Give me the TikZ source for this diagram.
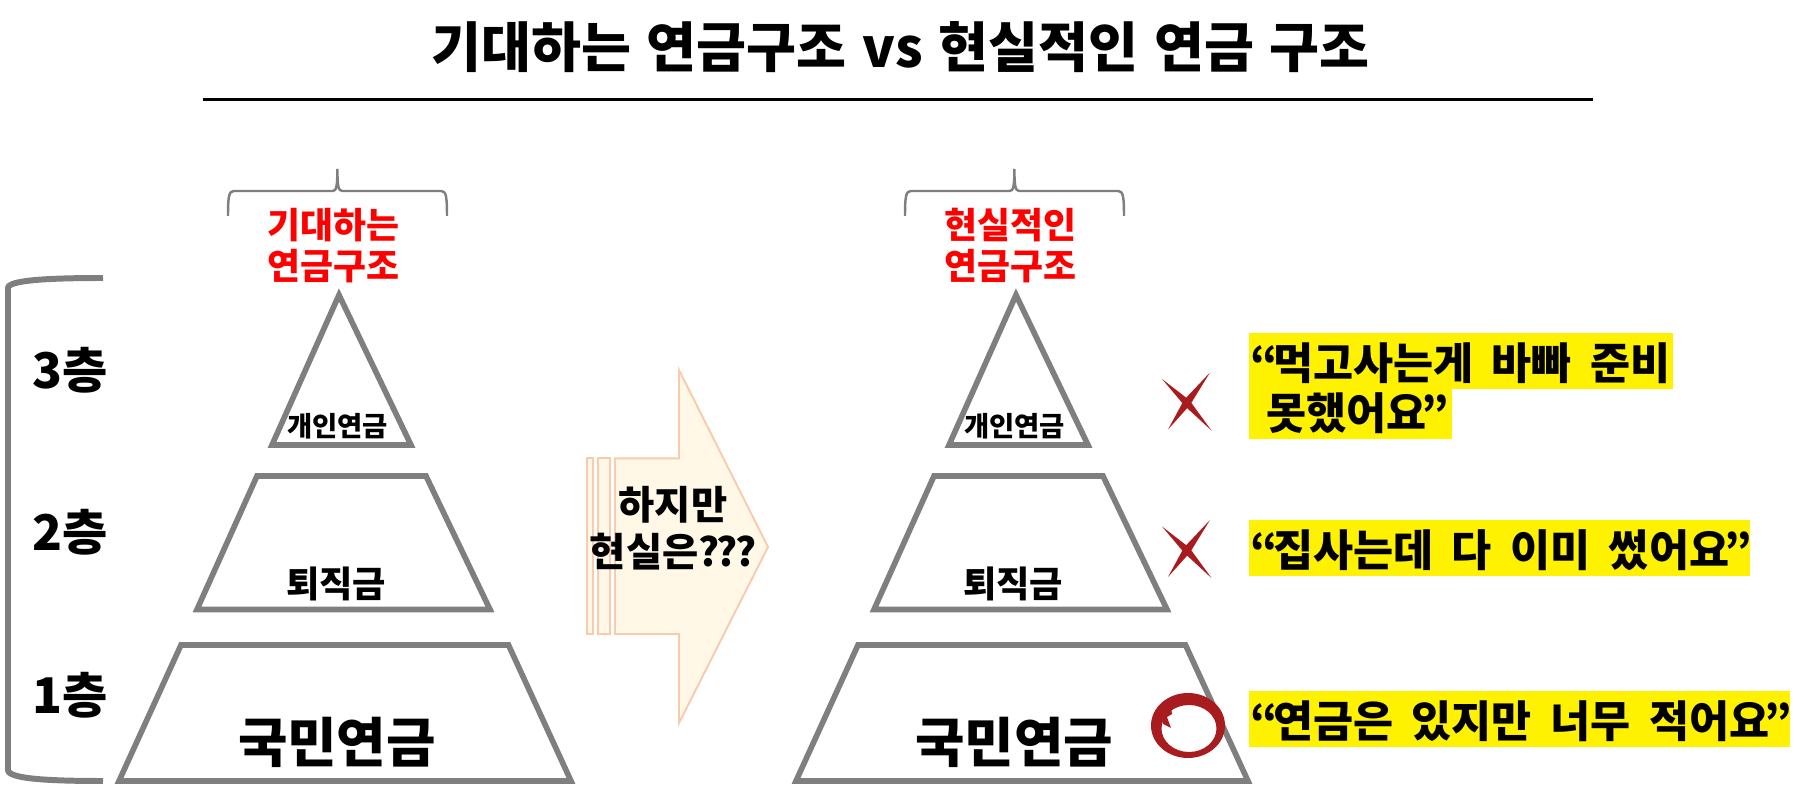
\documentclass[tikz,border=0pt]{standalone}
\usepackage{fontspec}
\setmainfont{Noto Sans CJK KR}
\newfontfamily\quotefont[WordSpace=1.85]{Noto Sans CJK KR}
\usetikzlibrary{calc}
\definecolor{pyrgray}{HTML}{7F7F7F}
\definecolor{arrowfill}{HTML}{FFF8E6}
\definecolor{arrowline}{HTML}{F8CBAD}
\definecolor{markred}{HTML}{A81C20}
\tikzset{
	pyramid/.style={line width=1.6pt, draw=pyrgray, line join=miter},
	brace/.style={line width=0.7pt, draw=pyrgray},
	redlabel/.style={text=red, align=center, font=\fontsize{10.2}{11.6}\selectfont\bfseries},
	floorlabel/.style={font=\fontsize{14}{16}\selectfont\bfseries},
	quote/.style={anchor=west, inner sep=0pt, font=\quotefont\fontsize{12.4}{15}\selectfont\bfseries},
	arrowpart/.style={fill=arrowfill, draw=arrowline, line width=0.55pt}
}
% tapered cross, centre given
\def\crossmark(#1,#2){\fill[markred] (#1-0.25,#2-0.23) -- (#1+0.022,#2-0.02) -- (#1+0.245,#2+0.285) -- (#1-0.022,#2+0.04) -- cycle;
	\fill[markred] (#1+0.23,#2-0.295) -- (#1+0.03,#2+0.03) -- (#1-0.19,#2+0.275) -- (#1-0.03,#2-0.02) -- cycle;}
\def\qk{\kern-0.12em}

\begin{document}
\begin{tikzpicture}[y=-1cm]
	%%%%% START %%%%%
	\useasboundingbox (0, 0) rectangle (18.15, 8.06);
	
	\node[font=\fontsize{15.45}{18}\selectfont\bfseries] (title) at (9.005, 0.47) {\spaceskip=0.29em 기대하는 연금구조 vs 현실적인 연금 구조};
	\draw[line width=1pt] (2.026, 0.995) -- (15.927, 0.995);
	
	% floors, big brace
	\draw[line width=1.7pt, draw=pyrgray] (1.03, 2.78) .. controls (0.5, 2.78) and (0.08, 2.8) .. (0.08, 2.88) -- (0.08, 7.70) .. controls (0.08, 7.79) and (0.5, 7.81) .. (1.03, 7.81);
	\node[floorlabel] (floor3) at (0.705, 3.70) {3층};
	\node[floorlabel] (floor2) at (0.705, 5.32) {2층};
	\node[floorlabel] (floor1) at (0.705, 6.95) {1층};
	
	% left pyramid
	\draw[brace] (2.28, 2.16) .. controls (2.28, 1.96) and (2.29, 1.91) .. (2.34, 1.91) -- (3.33, 1.91) .. controls (3.365, 1.91) and (3.374, 1.85) .. (3.374, 1.69) .. controls (3.374, 1.85) and (3.383, 1.91) .. (3.42, 1.91) -- (4.41, 1.91) .. controls (4.46, 1.91) and (4.47, 1.96) .. (4.47, 2.16);
	\node[redlabel] (wanted) at (3.335, 2.455) {기대하는\\연금구조};
	\draw[pyramid] (3.39, 2.95) -- (4.11, 4.45) -- (2.72, 4.45) -- cycle;
	\node[font=\fontsize{7.8}{9}\selectfont\bfseries] (private) at (3.375, 4.26) {개인연금};
	\draw[pyramid] (2.57, 4.76) -- (4.26, 4.76) -- (4.90, 6.095) -- (1.97, 6.095) -- cycle;
	\node[font=\fontsize{10.3}{12}\selectfont\bfseries] (retire) at (3.36, 5.84) {퇴직금};
	\draw[pyramid] (1.81, 6.45) -- (5.085, 6.45) -- (5.71, 7.81) -- (1.19, 7.81) -- cycle;
	\node[font=\fontsize{15.3}{18}\selectfont\bfseries] (nation) at (3.37, 7.42) {국민연금};
	
	% arrow
	\draw[arrowpart] (5.867, 4.583) rectangle (5.933, 6.34);
	\draw[arrowpart] (5.98, 4.583) rectangle (6.10, 6.34);
	\draw[arrowpart] (6.15, 4.583) -- (6.79, 4.583) -- (6.79, 3.70) -- (7.68, 5.47) -- (6.79, 7.23) -- (6.79, 6.34) -- (6.15, 6.34) -- cycle;
	\node[align=center, font=\fontsize{11.2}{13.5}\selectfont\bfseries] (but) at (6.73, 5.28) {하지만\\현실은?\kern-0.07em?\kern-0.07em?};
	
	% right pyramid
	\draw[brace] (9.05, 2.16) .. controls (9.05, 1.96) and (9.06, 1.91) .. (9.11, 1.91) -- (10.10, 1.91) .. controls (10.135, 1.91) and (10.144, 1.85) .. (10.144, 1.69) .. controls (10.144, 1.85) and (10.153, 1.91) .. (10.19, 1.91) -- (11.18, 1.91) .. controls (11.23, 1.91) and (11.24, 1.96) .. (11.24, 2.16);
	\node[redlabel] (real) at (10.105, 2.455) {현실적인\\연금구조};
	\draw[pyramid] (10.16, 2.95) -- (10.88, 4.45) -- (9.49, 4.45) -- cycle;
	\node[font=\fontsize{7.8}{9}\selectfont\bfseries] (privateb) at (10.145, 4.26) {개인연금};
	\draw[pyramid] (9.34, 4.76) -- (11.03, 4.76) -- (11.67, 6.095) -- (8.74, 6.095) -- cycle;
	\node[font=\fontsize{10.3}{12}\selectfont\bfseries] (retireb) at (10.13, 5.84) {퇴직금};
	\draw[pyramid] (8.58, 6.45) -- (11.855, 6.45) -- (12.48, 7.81) -- (7.96, 7.81) -- cycle;
	\node[font=\fontsize{15.3}{18}\selectfont\bfseries] (nationb) at (10.14, 7.42) {국민연금};
	
	% marks
	\crossmark(11.87,4.02);
	\crossmark(11.87,5.495);
	\fill[markred, even odd rule] (11.88, 7.255) ellipse (0.37 and 0.325) (11.89, 7.285) ellipse (0.275 and 0.235);
	\fill[markred] (11.60, 7.10) -- (11.71, 7.08) -- (11.72, 7.14) -- (11.67, 7.17) -- (11.71, 7.28) -- (11.63, 7.24) -- cycle;
	
	% quotes
	\fill[yellow] (12.49, 3.327) rectangle (16.73, 3.89);
	\fill[yellow] (12.49, 3.89) rectangle (14.52, 4.387);
	\fill[yellow] (12.49, 5.20) rectangle (17.50, 5.76);
	\fill[yellow] (12.49, 6.907) rectangle (17.90, 7.467);
	\node[quote] (tooBusy) at (12.50, 3.63) {“\qk 먹고사는게 바빠 준비};
	\node[quote] (tooBusyb) at (12.66, 4.13) {못했어요\qk ”};
	\node[quote] (spent) at (12.50, 5.50) {“\qk 집사는데 다 이미 썼어요\qk ”};
	\node[quote] (small) at (12.50, 7.21) {“\qk 연금은 있지만 너무 적어요\qk ”};
	
	%%%%% END %%%%%
\end{tikzpicture}
\end{document}
